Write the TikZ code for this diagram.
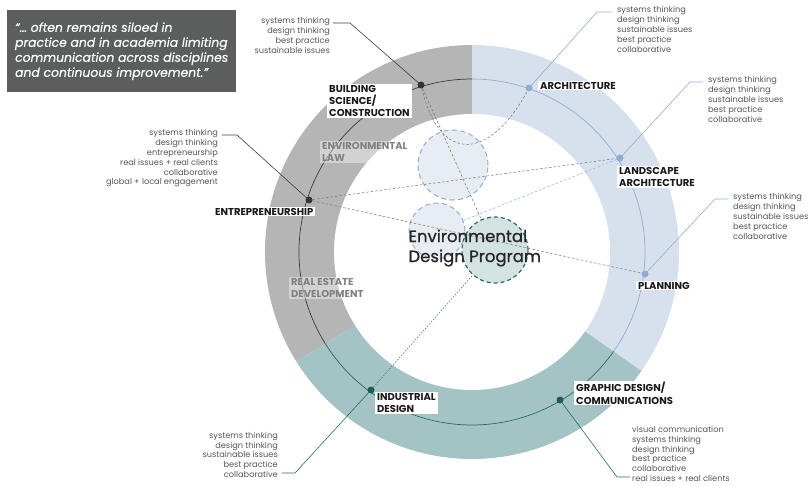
\documentclass[tikz,border=0pt]{standalone}
\usepackage{fontspec}
\setmainfont{Poppins}
\newfontfamily\titlefont[FakeBold=0.8,Ligatures=TeX]{Poppins}
\newfontfamily\quotefont[FakeBold=0.4,Ligatures=TeX]{Poppins}
\usetikzlibrary{calc}
\definecolor{ringgrey}{HTML}{B5B5B5}
\definecolor{ringblue}{HTML}{D7E1ED}
\definecolor{ringteal}{HTML}{A3C3C4}
\definecolor{linedark}{HTML}{3C3C3C}
\definecolor{lineblue}{HTML}{93ADD0}
\definecolor{lineteal}{HTML}{2D6A66}
\definecolor{dotdark}{HTML}{333333}
\definecolor{dotblue}{HTML}{92ACD3}
\definecolor{dotteal}{HTML}{1D5C56}
\definecolor{txtgrey}{HTML}{555555}
\definecolor{quotebg}{HTML}{5B5E5D}
\definecolor{circfill}{HTML}{E8EDF3}
\definecolor{tealfill}{HTML}{D3E3E2}
\tikzset{
  disc/.style={font=\bfseries\fontsize{10}{12.3}\selectfont, fill=white, inner xsep=2pt, inner ysep=1pt, align=left, text=black!90, anchor=north west},
  discsoft/.style={font=\bfseries\fontsize{10}{12.3}\selectfont, fill=white, fill opacity=0.4, text opacity=1, inner xsep=2pt, inner ysep=1pt, align=left, text=black!50, anchor=north west},
  notes/.style={font=\fontsize{8.2}{9.9}\selectfont, text=txtgrey, inner sep=0pt},
  dotd/.style={circle, fill=dotdark, inner sep=0pt, minimum size=7pt},
  dotb/.style={circle, fill=dotblue, inner sep=0pt, minimum size=7pt},
  dott/.style={circle, fill=dotteal, inner sep=0pt, minimum size=7pt},
  leadd/.style={draw=linedark, line width=0.6pt},
  leadb/.style={draw=lineblue, line width=0.6pt},
  leadt/.style={draw=lineteal, line width=0.6pt},
  dashd/.style={draw=black!55, line width=0.5pt, dash pattern=on 2.5pt off 2pt},
  dashb/.style={draw=lineblue, line width=0.5pt, dash pattern=on 2.5pt off 2pt},
  dasht/.style={draw=lineteal, line width=0.5pt, dash pattern=on 1.5pt off 1.5pt},
}
\begin{document}
\begin{tikzpicture}[x=1pt,y=-1pt]
\useasboundingbox (0,0) rectangle (809,487);
\coordinate (C) at (472,252);
% ring sectors
\fill[ringgrey] (C) -- ++(-90:207) arc[start angle=-90, end angle=-212, radius=207] -- cycle;
\fill[ringteal] (C) -- ++(-212:207) arc[start angle=-212, end angle=-325, radius=207] -- cycle;
\fill[ringblue] (C) -- ++(35:207) arc[start angle=35, end angle=-90, radius=207] -- cycle;
\fill[white] (C) circle[radius=138];
% middle line
\draw[linedark, line width=0.7pt] (C) ++(-90:173) arc[start angle=-90, end angle=-212, radius=173];
\draw[lineteal, line width=0.7pt] (C) ++(-212:173) arc[start angle=-212, end angle=-325, radius=173];
\draw[lineblue, line width=0.7pt] (C) ++(35:173) arc[start angle=35, end angle=-90, radius=173];
% central circles
\node[circle, minimum size=70pt, fill=circfill, draw=lineblue, line width=1pt, dash pattern=on 5pt off 3.5pt, inner sep=0pt] (c1) at (453,165) {};
\node[circle, minimum size=56pt, fill=circfill, draw=lineblue, line width=1pt, dash pattern=on 5pt off 3.5pt, inner sep=0pt] (c2) at (437,231) {};
\node[circle, minimum size=66pt, fill=tealfill, draw=lineteal, line width=1.2pt, dash pattern=on 4pt off 3pt, inner sep=0pt] (c3) at (495,250) {};
% dots
\node[dotd] (dB) at (421,85) {};
\node[dotd] (dE) at (309,200) {};
\node[dotb] (dA) at (529,88) {};
\node[dotb] (dL) at (620,158) {};
\node[dotb] (dP) at (645,274) {};
\node[dott] (dG) at (560,400) {};
\node[dott] (dI) at (371,390) {};
% dashed connectors
\draw[dashd] (dB) .. controls (440,165) and (490,160) .. (dA);
\draw[dashd] (dB) -- (c3);
\draw[dashd] (dE) -- (dL);
\draw[dashd] (dE) -- (dP);
\draw[dashb] (dL) -- (c2);
\draw[dasht] (dI) -- (c3);
% leaders and notes
\coordinate (kB1) at (350,23); \coordinate (kB2) at (333,23);
\draw[leadd] (dB.center) -- (kB1) -- (kB2);
\node[notes, anchor=north east, align=right] (nB) at (330,17) {systems thinking\\design thinking\\best practice\\sustainable issues};
\coordinate (kA1) at (597,12); \coordinate (kA2) at (612,12);
\draw[leadb] (dA.center) -- (kA1) -- (kA2);
\node[notes, anchor=north west, align=left] (nA) at (617,6) {systems thinking\\design thinking\\sustainable issues\\best practice\\collaborative};
\coordinate (kL1) at (690,82); \coordinate (kL2) at (703,82);
\draw[leadb] (dL.center) -- (kL1) -- (kL2);
\node[notes, anchor=north west, align=left] (nL) at (708,76) {systems thinking\\design thinking\\sustainable issues\\best practice\\collaborative};
\coordinate (kP1) at (715,199); \coordinate (kP2) at (728,199);
\draw[leadb] (dP.center) -- (kP1) -- (kP2);
\node[notes, anchor=north west, align=left] (nP) at (733,193) {systems thinking\\design thinking\\sustainable issues\\best practice\\collaborative};
\coordinate (kG1) at (617,477); \coordinate (kG2) at (630,477);
\draw[leadt] (dG.center) -- (kG1) -- (kG2);
\node[notes, anchor=south west, align=left] (nG) at (632,482) {visual communication\\systems thinking\\design thinking\\best practice\\collaborative\\real issues + real clients};
\coordinate (kI1) at (295,473); \coordinate (kI2) at (282,473);
\draw[leadt] (dI.center) -- (kI1) -- (kI2);
\node[notes, anchor=south east, align=right] (nI) at (278,478) {systems thinking\\design thinking\\sustainable issues\\best practice\\collaborative};
\coordinate (kE1) at (237,135); \coordinate (kE2) at (222,135);
\draw[leadd] (dE.center) -- (kE1) -- (kE2);
\node[notes, anchor=north east, align=right] (nE) at (218,129) {systems thinking\\design thinking\\entrepreneurship\\real issues + real clients\\collaborative\\global + local engagement};
% discipline labels
\node[disc] (lB) at (327,84) {BUILDING\\SCIENCE/\\CONSTRUCTION};
\node[disc] (lA) at (538,81) {ARCHITECTURE};
\node[disc] (lL) at (617,166) {LANDSCAPE\\ARCHITECTURE};
\node[disc] (lP) at (636,281) {PLANNING};
\node[disc] (lG) at (574,381) {GRAPHIC DESIGN/\\COMMUNICATIONS};
\node[disc] (lI) at (375,392) {INDUSTRIAL\\DESIGN};
\node[disc] (lE) at (213,207) {ENTREPRENEURSHIP};
\node[discsoft] (lEL) at (320,141) {ENVIRONMENTAL\\LAW};
\node[discsoft] (lR) at (289,277) {REAL ESTATE\\DEVELOPMENT};
% center title
\node[font=\titlefont\fontsize{16.5}{20}\selectfont, text=black!85, align=left, anchor=west] (title) at (405,248) {Environmental\\Design Program};
% quote
\node[fill=quotebg, text=white, font=\quotefont\itshape\fontsize{12.4}{15}\selectfont, align=left, anchor=north west, minimum width=229pt, minimum height=82pt, inner xsep=2pt] (quote) at (7,10) {“\ldots\ often remains siloed in\\practice and in academia limiting\\communication across disciplines\\and continuous improvement.”};
\end{tikzpicture}
\end{document}
